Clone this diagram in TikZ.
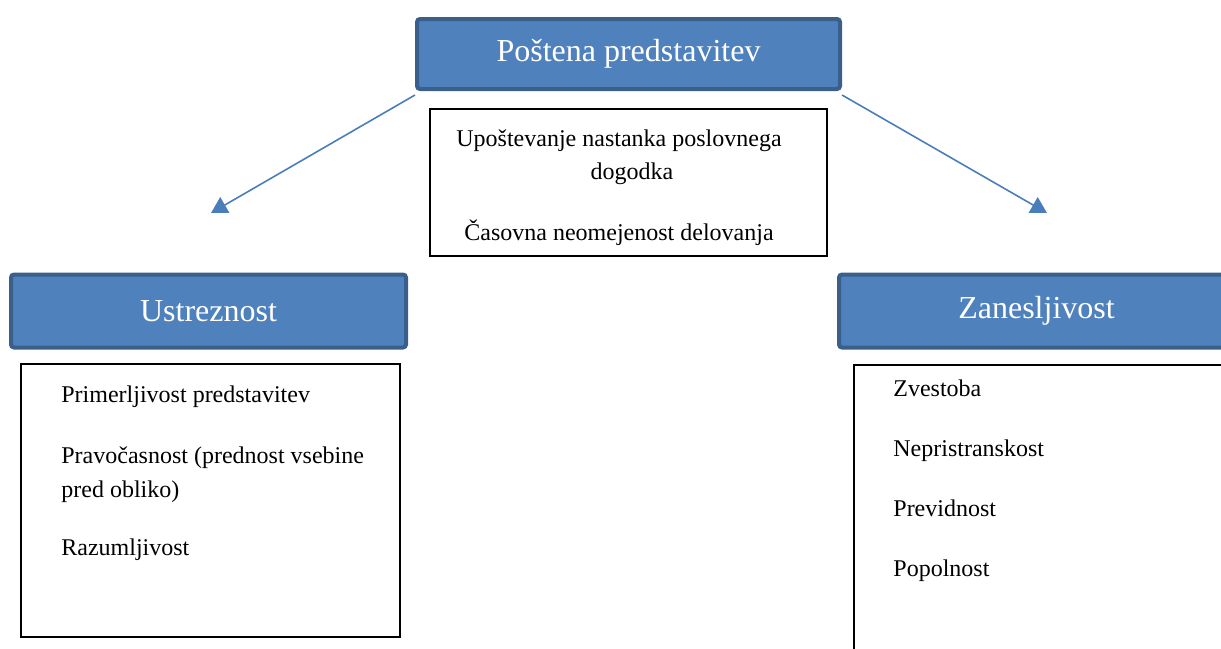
\documentclass[tikz,border=0pt]{standalone}
\usepackage{fontspec}
\setmainfont{Liberation Serif}
\usetikzlibrary{positioning}
\usetikzlibrary{arrows.meta}
\definecolor{headblue}{HTML}{4F81BD}
\definecolor{headedge}{HTML}{3A5F8B}
\definecolor{arrowblue}{HTML}{4A7EBB}

\begin{document}
\begin{tikzpicture}[x=0.5pt,y=-0.5pt,
    head/.style={draw=headedge,line width=2pt,fill=headblue,rounded corners=1.5pt,text=white,font=\fontsize{16}{19}\selectfont,inner sep=0pt},
    list/.style={draw=black,line width=1pt,inner sep=0pt},
    item/.style={font=\fontsize{12}{17}\selectfont,inner sep=0pt,align=left},
    line/.style={item,text height=8.5pt,text depth=2.5pt},
    conn/.style={draw=arrowblue,line width=0.8pt,-{Triangle[length=8pt,width=9pt]}}]
    \useasboundingbox (0,0) rectangle (1221,648);
    \clip (0,0) rectangle (1221,648);

    \node (fair)[head,minimum width=211.5pt,minimum height=35pt] at (628.5,54) {Poštena predstavitev};
    \node (relevance)[head,minimum width=197.5pt,minimum height=36.5pt] at (208.5,311) {Ustreznost};
    \node (reliability)[head,minimum width=197.5pt,minimum height=36.5pt] at (1036.5,311) {Zanesljivost};

    \node (basis)[list,minimum width=198.5pt,minimum height=73.5pt] at (628.5,182.5) {};
    \node (basis1)[line] at (619,140) {Upoštevanje nastanka poslovnega};
    \node (basis2)[line] at (632,173) {dogodka};
    \node (basis3)[line] at (619,234) {Časovna neomejenost delovanja};

    \node (relevantlist)[list,minimum width=189.5pt,minimum height=136.5pt] at (210.5,500.5) {};
    \node (rel1)[line,anchor=west] at (61,396) {Primerljivost predstavitev};
    \node (rel2)[item,anchor=west] at (61,475) {Pravočasnost (prednost vsebine\\pred obliko)};
    \node (rel3)[line,anchor=west] at (61,549) {Razumljivost};

    \node (reliablelist)[list,minimum width=189.5pt,minimum height=160pt,anchor=north west] at (853,364) {};
    \node (zan1)[line,anchor=west] at (893,390) {Zvestoba};
    \node (zan2)[line,anchor=west] at (893,450) {Nepristranskost};
    \node (zan3)[line,anchor=west] at (893,510) {Previdnost};
    \node (zan4)[line,anchor=west] at (893,570) {Popolnost};

    \coordinate (lefttip) at (211,213);
    \coordinate (righttip) at (1047,213);
    \draw[conn] ([yshift=-2pt]fair.south west) -- (lefttip);
    \draw[conn] ([yshift=-2pt]fair.south east) -- (righttip);
\end{tikzpicture}
\end{document}
